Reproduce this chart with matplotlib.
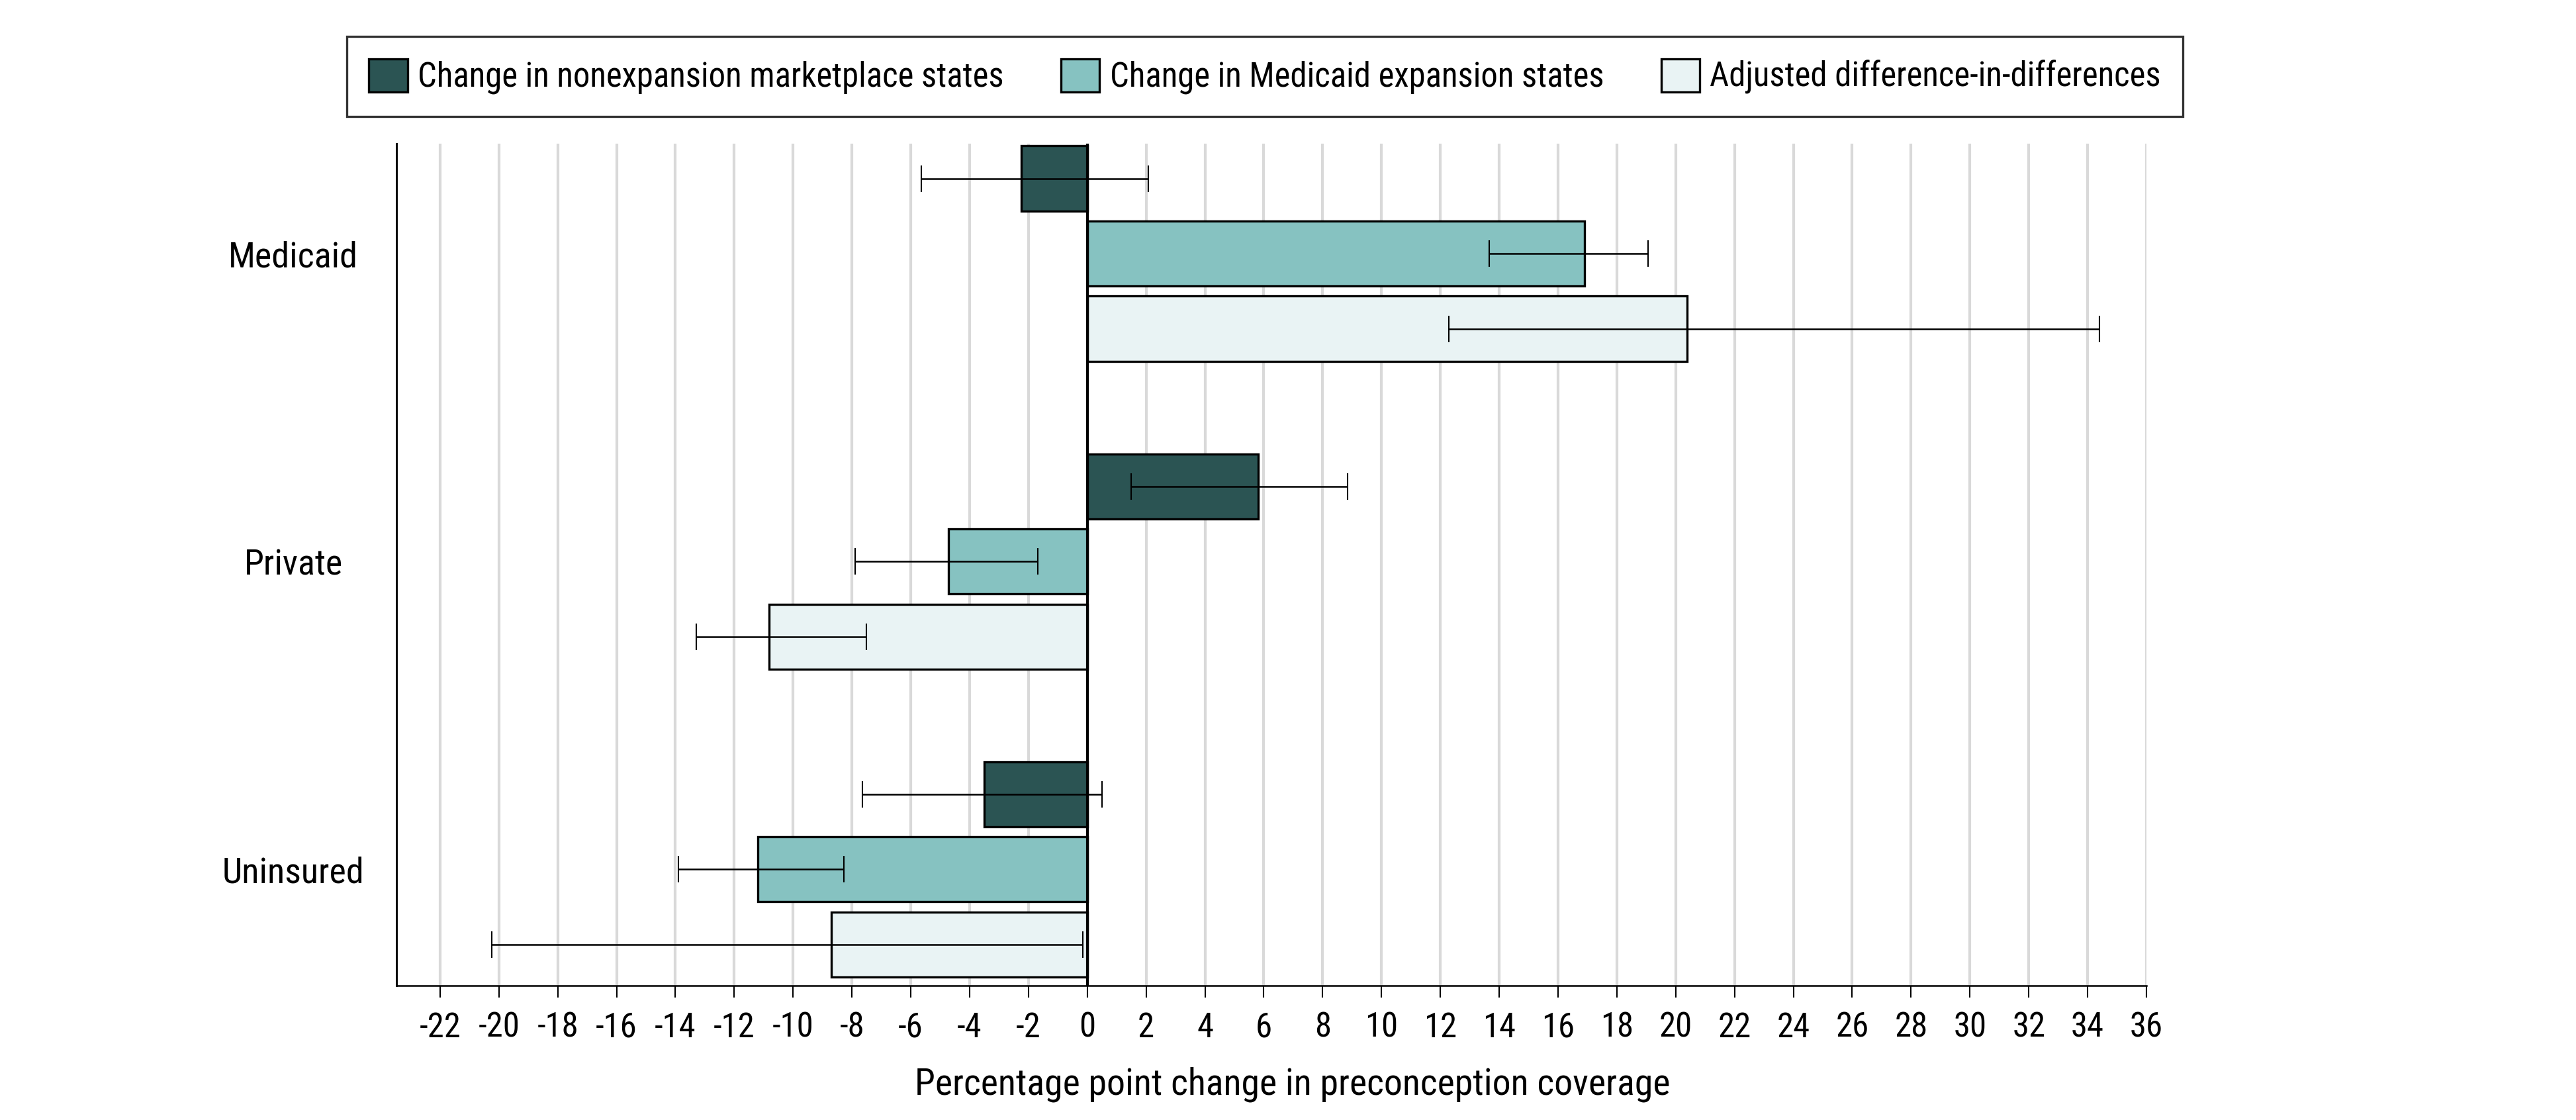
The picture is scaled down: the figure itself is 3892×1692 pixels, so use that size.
import matplotlib
matplotlib.use("Agg")
import matplotlib.pyplot as plt
from matplotlib import font_manager
from matplotlib.patches import Patch
import numpy as np

# ---------------- data ----------------
categories = ["Medicaid", "Private", "Uninsured"]
series_names = ["Change in nonexpansion marketplace states",
                "Change in Medicaid expansion states",
                "Adjusted difference-in-differences"]

nonexp = [-2.25, 5.8, -3.5]
nonexp_lo = [-5.65, 1.5, -7.65]
nonexp_hi = [2.07, 8.85, 0.5]

medexp = [16.9, -4.72, -11.2]
medexp_lo = [13.67, -7.9, -13.9]
medexp_hi = [19.07, -1.68, -8.28]

did = [20.38, -10.82, -8.7]
did_lo = [12.3, -13.3, -20.25]
did_hi = [34.4, -7.5, -0.15]

x_ticks = list(range(-22, 37, 2))
x_tick_labels = [str(v) for v in x_ticks]
x_label = "Percentage point change in preconception coverage"

colors = ["#2b5453", "#86c2c1", "#e9f3f4"]

# ---------------- font ----------------
names = {f.name for f in font_manager.fontManager.ttflist}
font_family = "DejaVu Sans"
for cand in ["Liberation Sans Narrow", "Roboto Condensed", "Open Sans Condensed",
             "Liberation Sans", "Roboto"]:
    if cand in names:
        font_family = cand
        break
plt.rcParams["font.family"] = [font_family, "DejaVu Sans"]
plt.rcParams["axes.unicode_minus"] = False

# ---------------- figure ----------------
DPI = 300
fig = plt.figure(figsize=(3892 / DPI, 1692 / DPI), dpi=DPI)
ax = fig.add_axes([599 / 3892, 1 - 1489 / 1692, (3243 - 599) / 3892, (1489 - 217) / 1692])

y = np.arange(len(categories))
offset = 0.244
height = 0.211
series = [(nonexp, nonexp_lo, nonexp_hi), (medexp, medexp_lo, medexp_hi), (did, did_lo, did_hi)]
for i, (vals, lo, hi) in enumerate(series):
    pos = y + (i - 1) * offset
    vals_a = np.array(vals)
    ax.barh(pos, vals_a, height=height, left=0, color=colors[i], edgecolor="black",
            linewidth=0.8, zorder=3)
    xerr = np.array([vals_a - np.array(lo), np.array(hi) - vals_a])
    ax.errorbar(vals_a, pos, xerr=xerr, fmt="none", ecolor="black", elinewidth=0.6,
                capsize=4.8, capthick=0.5, zorder=4)

ax.axvline(0, color="black", linewidth=1.0, zorder=5)

ax.set_xlim(-23.48, 36)
ax.set_ylim(2.378, -0.357)
ax.set_xticks(x_ticks)
ax.set_xticklabels(x_tick_labels, fontsize=12.2)
ax.set_yticks(y)
ax.set_yticklabels(categories, fontsize=13)
for lab in ax.get_yticklabels():
    lab.set_ha("center")
ax.tick_params(axis="y", length=0, pad=37.4)
ax.tick_params(axis="x", length=4.3, width=0.5, pad=5.0, color="black")

ax.grid(axis="x", color="#d9d9d9", linewidth=1.0, zorder=0)
ax.set_axisbelow(True)
for s in ["top", "right"]:
    ax.spines[s].set_visible(False)
ax.spines["left"].set_linewidth(0.7)
ax.spines["bottom"].set_linewidth(0.6)
ax.set_xlabel(x_label, fontsize=13.4, labelpad=8)
ax.xaxis.label.set_x(0.512)

handles = [Patch(facecolor=colors[i], edgecolor="black", linewidth=0.8, label=series_names[i])
           for i in range(3)]
leg = fig.legend(handles=handles, loc="center", bbox_to_anchor=(1911 / 3892, 1 - 115.5 / 1692),
                 ncol=3, fontsize=12.2, frameon=True, fancybox=False, edgecolor="black",
                 handlelength=1.15, handleheight=1.15, handletextpad=0.3, columnspacing=1.7,
                 borderpad=0.65)
leg.get_frame().set_linewidth(0.8)

fig.savefig("out.png", dpi=DPI, facecolor="white")
